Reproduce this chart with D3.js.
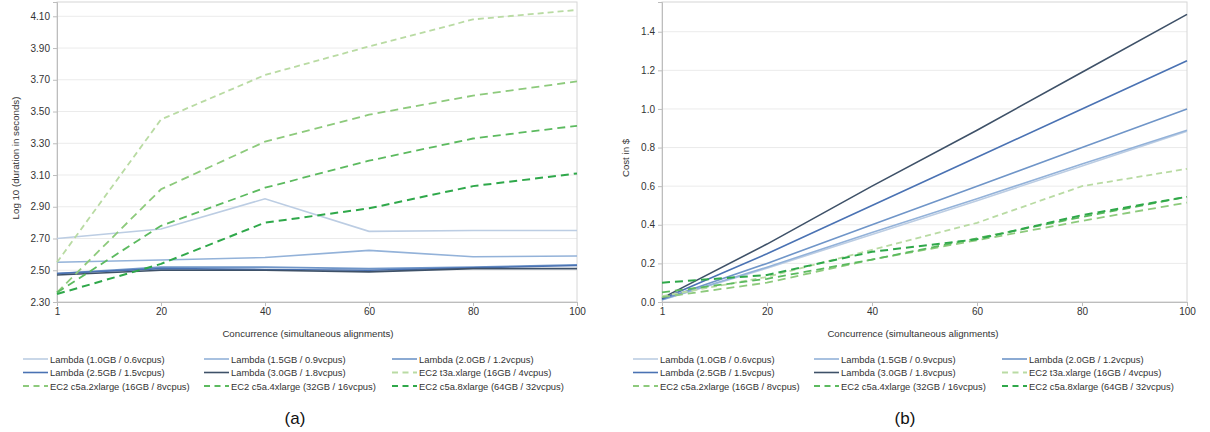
<!DOCTYPE html>
<html>
<head>
<meta charset="utf-8">
<script src="https://cdn.jsdelivr.net/npm/d3@7"></script>
<style>
  body { margin: 0; background: #fff; }
  svg { font-family: "Liberation Sans", Arial, sans-serif; }
  .tick text { fill: #333; font-size: 10px; }
  .grid line { stroke: #ebebeb; }
  .lbl { fill: #333; font-size: 9.7px; }
  .leg text { fill: #333; font-size: 9.4px; }
</style>
</head>
<body>
<script>
// concurrence levels (x categories)
var concurrence = ["1", "20", "40", "60", "80", "100"];

var seriesNames = [
  "Lambda (1.0GB / 0.6vcpus)", "Lambda (1.5GB / 0.9vcpus)", "Lambda (2.0GB / 1.2vcpus)",
  "Lambda (2.5GB / 1.5vcpus)", "Lambda (3.0GB / 1.8vcpus)", "EC2 t3a.xlarge (16GB / 4vcpus)",
  "EC2 c5a.2xlarge (16GB / 8vcpus)", "EC2 c5a.4xlarge (32GB / 16vcpus)", "EC2 c5a.8xlarge (64GB / 32vcpus)"
];

// (a) log10 of duration in seconds
var durLambda10 = [2.70, 2.76, 2.95, 2.745, 2.75, 2.75];
var durLambda15 = [2.55, 2.565, 2.58, 2.625, 2.585, 2.59];
var durLambda20 = [2.48, 2.52, 2.52, 2.51, 2.52, 2.535];
var durLambda25 = [2.48, 2.51, 2.505, 2.50, 2.515, 2.53];
var durLambda30 = [2.47, 2.50, 2.50, 2.49, 2.51, 2.51];
var durT3a = [2.55, 3.45, 3.73, 3.91, 4.08, 4.14];
var durC5a2 = [2.36, 3.01, 3.31, 3.48, 3.60, 3.69];
var durC5a4 = [2.36, 2.78, 3.02, 3.19, 3.33, 3.41];
var durC5a8 = [2.35, 2.54, 2.80, 2.89, 3.03, 3.11];

// (b) cost in $
var costLambda10 = [0.01, 0.175, 0.35, 0.525, 0.705, 0.885];
var costLambda15 = [0.012, 0.18, 0.36, 0.535, 0.715, 0.89];
var costLambda20 = [0.013, 0.20, 0.40, 0.60, 0.80, 1.00];
var costLambda25 = [0.015, 0.25, 0.50, 0.75, 1.00, 1.25];
var costLambda30 = [0.02, 0.30, 0.60, 0.89, 1.19, 1.49];
var costT3a = [0.03, 0.13, 0.27, 0.41, 0.60, 0.69];
var costC5a2 = [0.025, 0.10, 0.22, 0.32, 0.42, 0.515];
var costC5a4 = [0.05, 0.12, 0.22, 0.33, 0.44, 0.545];
var costC5a8 = [0.10, 0.14, 0.26, 0.325, 0.45, 0.545];

var durTicks = [2.30, 2.50, 2.70, 2.90, 3.10, 3.30, 3.50, 3.70, 3.90, 4.10];
var costTicks = [0.0, 0.2, 0.4, 0.6, 0.8, 1.0, 1.2, 1.4];

var colors = ["#bccde3", "#93b2d9", "#6f95c8", "#4a72b3", "#3e5168",
              "#b9dba3", "#8dca7c", "#5cba5f", "#2fa84a"];
var dashes = [null, null, null, null, null, "6,4", "8,5", "8,5", "8,5"];
var widths = [1.6, 1.6, 1.6, 1.6, 1.6, 1.8, 1.8, 1.8, 2];

var svg = d3.select("body").append("svg")
    .attr("width", 1210)
    .attr("height", 432);

function panel(opt) {
  var x = d3.scalePoint().domain(concurrence).range([opt.left, opt.right]);
  var y = d3.scaleLinear().domain(opt.domain).range([302, 2]);

  var g = svg.append("g");

  // grid
  g.append("g").attr("class", "grid")
    .selectAll("line").data(opt.ticks).enter().append("line")
    .attr("x1", opt.left).attr("x2", opt.right)
    .attr("y1", function (d) { return y(d); })
    .attr("y2", function (d) { return y(d); });

  // frame
  g.append("rect")
    .attr("x", opt.left).attr("y", 2)
    .attr("width", opt.right - opt.left).attr("height", 300)
    .attr("fill", "none").attr("stroke", "#d6d6d6");

  var yAxis = g.append("g")
    .attr("transform", "translate(" + opt.left + ",0)")
    .call(d3.axisLeft(y).tickValues(opt.ticks).tickSize(4).tickPadding(3).tickFormat(d3.format(opt.fmt)));
  var xAxis = g.append("g")
    .attr("transform", "translate(0,302)")
    .call(d3.axisBottom(x).tickSize(4).tickPadding(2));
  [xAxis, yAxis].forEach(function (a) {
    a.select(".domain").attr("stroke", "#bdbdbd");
    a.selectAll(".tick line").attr("stroke", "#bdbdbd");
  });

  var line = d3.line()
    .x(function (d, i) { return x(concurrence[i]); })
    .y(function (d) { return y(d); });

  g.selectAll("path.series").data(opt.series).enter().append("path")
    .attr("class", "series")
    .attr("d", line)
    .attr("fill", "none")
    .attr("stroke", function (d, i) { return colors[i]; })
    .attr("stroke-width", function (d, i) { return widths[i]; })
    .attr("stroke-dasharray", function (d, i) { return dashes[i]; });

  // axis titles
  g.append("text").attr("class", "lbl")
    .attr("transform", "translate(" + opt.ylabX + ",158) rotate(-90)")
    .attr("text-anchor", "middle")
    .text(opt.ylabel);
  g.append("text").attr("class", "lbl")
    .attr("x", opt.left + 251).attr("y", 337)
    .attr("text-anchor", "middle")
    .text("Concurrence (simultaneous alignments)");

  // legend 3x3
  var colX = [0, 181, 369];
  var leg = g.selectAll("g.leg").data(seriesNames).enter().append("g")
    .attr("class", "leg")
    .attr("transform", function (d, i) {
      return "translate(" + (opt.legX + colX[i % 3]) + "," + (359 + Math.floor(i / 3) * 13.5) + ")";
    });
  leg.append("line")
    .attr("x1", 0).attr("x2", 25).attr("y1", 0).attr("y2", 0)
    .attr("stroke", function (d, i) { return colors[i]; })
    .attr("stroke-width", function (d, i) { return widths[i]; })
    .attr("stroke-dasharray", function (d, i) { return dashes[i] ? "6,4.5" : null; });
  leg.append("text")
    .attr("x", 27).attr("y", 3.5)
    .text(function (d) { return d; });

  g.append("text")
    .attr("x", opt.capX).attr("y", 424)
    .attr("text-anchor", "middle")
    .attr("font-size", "17px").attr("fill", "#111")
    .text(opt.caption);
}

panel({
  left: 57, right: 577, domain: [2.30, 4.19], ticks: durTicks, fmt: ".2f",
  ylabel: "Log 10 (duration in seconds)", ylabX: 19,
  series: [durLambda10, durLambda15, durLambda20, durLambda25, durLambda30, durT3a, durC5a2, durC5a4, durC5a8],
  legX: 23, capX: 295, caption: "(a)"
});

panel({
  left: 662, right: 1187, domain: [0, 1.554], ticks: costTicks, fmt: ".1f",
  ylabel: "Cost in $", ylabX: 629,
  series: [costLambda10, costLambda15, costLambda20, costLambda25, costLambda30, costT3a, costC5a2, costC5a4, costC5a8],
  legX: 633, capX: 905, caption: "(b)"
});
</script>
</body>
</html>
